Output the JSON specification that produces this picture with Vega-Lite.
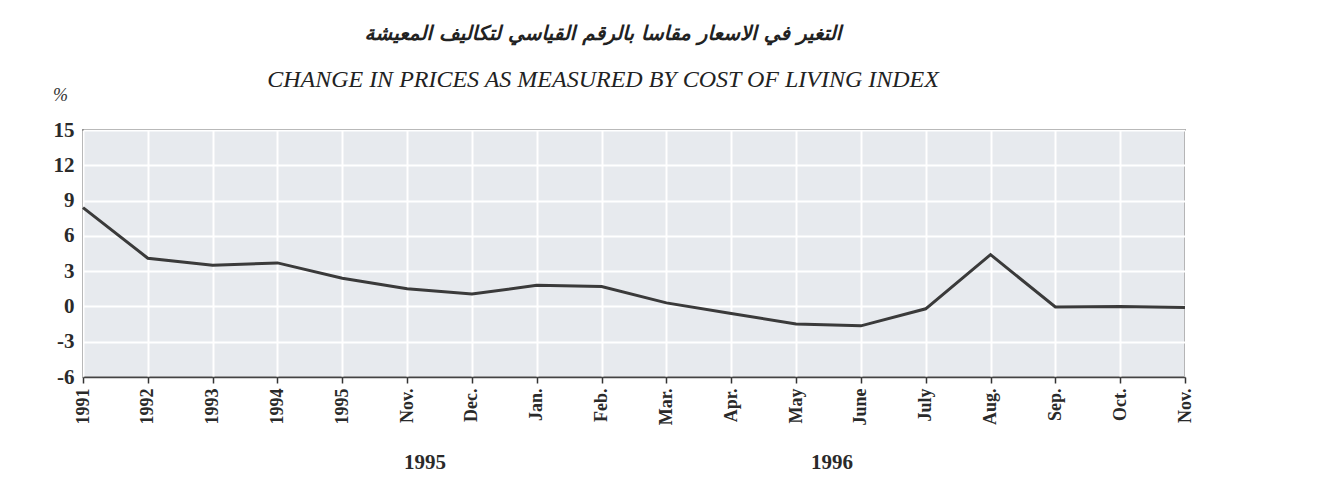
{
  "$schema": "https://vega.github.io/schema/vega-lite/v6.json",
  "width": 1102,
  "height": 247,
  "autosize": {"type": "none"},
  "padding": {"left": 83, "top": 130, "right": 148, "bottom": 123},
  "background": "white",
  "title": {
    "text": "التغير في الاسعار مقاسا بالرقم القياسي لتكاليف المعيشة",
    "subtitle": "CHANGE IN PRICES AS MEASURED BY COST OF LIVING INDEX",
    "anchor": "middle",
    "frame": "group",
    "dx": -31,
    "offset": -6,
    "font": "DejaVu Sans",
    "fontSize": 20,
    "fontWeight": "bold",
    "fontStyle": "italic",
    "color": "#222222",
    "subtitleFont": "Liberation Serif",
    "subtitleFontSize": 24,
    "subtitleFontStyle": "italic",
    "subtitleFontWeight": "normal",
    "subtitleColor": "#222222",
    "subtitlePadding": 24
  },
  "datasets": {
    "cpi": [
      {"period": "1991", "change": 8.4},
      {"period": "1992", "change": 4.1},
      {"period": "1993", "change": 3.5},
      {"period": "1994", "change": 3.7},
      {"period": "1995", "change": 2.4},
      {"period": "Nov. 1995", "change": 1.5},
      {"period": "Dec. 1995", "change": 1.05},
      {"period": "Jan. 1996", "change": 1.8},
      {"period": "Feb. 1996", "change": 1.7},
      {"period": "Mar. 1996", "change": 0.3},
      {"period": "Apr. 1996", "change": -0.6},
      {"period": "May 1996", "change": -1.5},
      {"period": "June 1996", "change": -1.65},
      {"period": "July 1996", "change": -0.2},
      {"period": "Aug. 1996", "change": 4.4},
      {"period": "Sep. 1996", "change": -0.05},
      {"period": "Oct. 1996", "change": 0.0},
      {"period": "Nov. 1996", "change": -0.1}
    ],
    "y1995": [{"period": "Nov. 1995", "label": "1995"}],
    "y1996": [{"period": "May 1996", "label": "1996"}]
  },
  "layer": [
    {
      "data": {"name": "cpi"},
      "mark": {"type": "line", "color": "#3a3a3a", "strokeWidth": 3, "strokeJoin": "miter"},
      "encoding": {
        "x": {"field": "period", "type": "ordinal", "sort": null},
        "y": {"field": "change", "type": "quantitative"}
      }
    },
    {
      "mark": {"type": "rule", "color": "#333333", "strokeWidth": 2},
      "encoding": {"x": {"datum": "1995", "type": "ordinal"}}
    },
    {
      "data": {"name": "y1995"},
      "mark": {"type": "text", "font": "Liberation Serif", "fontWeight": "bold", "fontSize": 21, "color": "#2a2a2a", "dx": 18, "dy": 86, "baseline": "middle"},
      "encoding": {
        "x": {"field": "period", "type": "ordinal"},
        "y": {"datum": -6, "type": "quantitative"},
        "text": {"field": "label"}
      }
    },
    {
      "data": {"name": "y1996"},
      "mark": {"type": "text", "font": "Liberation Serif", "fontWeight": "bold", "fontSize": 21, "color": "#2a2a2a", "dx": 36, "dy": 86, "baseline": "middle"},
      "encoding": {
        "x": {"field": "period", "type": "ordinal"},
        "y": {"datum": -6, "type": "quantitative"},
        "text": {"field": "label"}
      }
    }
  ],
  "encoding": {
    "x": {
      "field": "period",
      "type": "ordinal",
      "scale": {
        "type": "point",
        "padding": 0,
        "domain": ["1991", "1992", "1993", "1994", "1995", "Nov. 1995", "Dec. 1995", "Jan. 1996", "Feb. 1996", "Mar. 1996", "Apr. 1996", "May 1996", "June 1996", "July 1996", "Aug. 1996", "Sep. 1996", "Oct. 1996", "Nov. 1996"]
      },
      "axis": {
        "title": null,
        "labelAngle": -90,
        "labelExpr": "split(datum.value, ' ')[0]",
        "labelFont": "Liberation Serif",
        "labelFontWeight": "bold",
        "labelFontSize": 18,
        "labelColor": "#2a2a2a",
        "labelPadding": 5,
        "tickSize": 6,
        "tickColor": "#333333",
        "tickWidth": 1.5,
        "domainColor": "#444444",
        "domainWidth": 1.5,
        "grid": true,
        "gridColor": "#ffffff",
        "gridWidth": 2,
        "gridOpacity": 1
      }
    },
    "y": {
      "type": "quantitative",
      "scale": {"domain": [-6, 15], "nice": false, "zero": false},
      "axis": {
        "values": [-6, -3, 0, 3, 6, 9, 12, 15],
        "labelExpr": "'' + datum.value",
        "labelFont": "Liberation Serif",
        "labelFontWeight": "bold",
        "labelFontSize": 21,
        "labelColor": "#2a2a2a",
        "labelPadding": 9,
        "ticks": false,
        "domain": false,
        "grid": true,
        "gridColor": "#ffffff",
        "gridWidth": 2,
        "gridOpacity": 1,
        "title": "%",
        "titleAngle": 0,
        "titleX": -23,
        "titleY": -35,
        "titleAlign": "center",
        "titleBaseline": "middle",
        "titleFont": "Liberation Serif",
        "titleFontStyle": "italic",
        "titleFontWeight": "normal",
        "titleFontSize": 18,
        "titleColor": "#333333"
      }
    }
  },
  "config": {
    "view": {"fill": "#e7eaee", "stroke": "#444444", "strokeWidth": 1.5}
  }
}
